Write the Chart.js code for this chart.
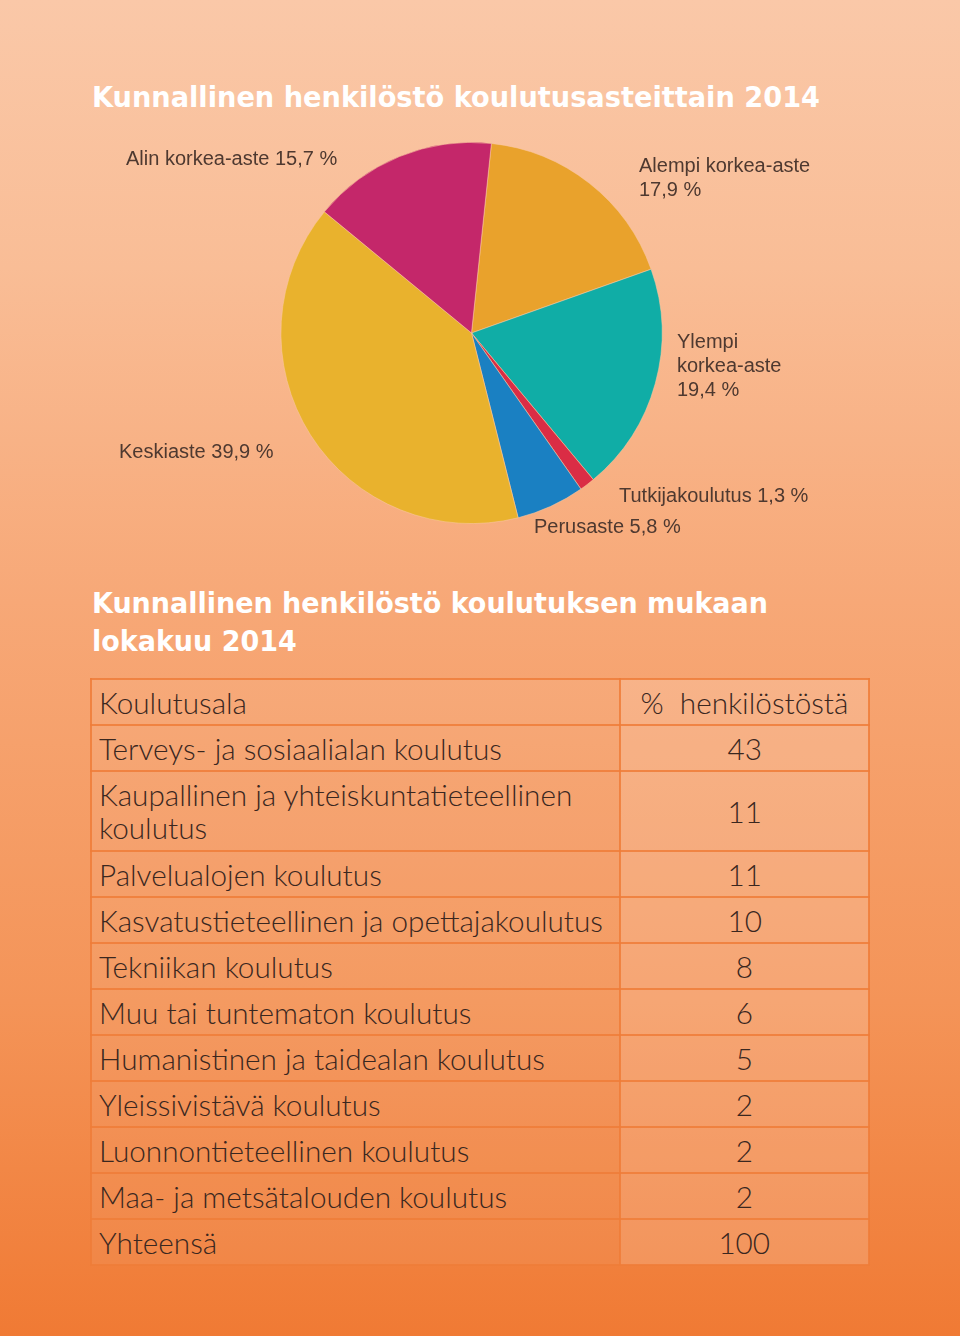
<!DOCTYPE html>
<html lang="fi">
<head>
<meta charset="utf-8">
<script src="https://cdn.jsdelivr.net/npm/chart.js@4/dist/chart.umd.min.js"></script>
<style>
  html, body { margin: 0; padding: 0; }
  body {
    width: 960px; height: 1336px; position: relative; overflow: hidden;
    background: linear-gradient(180deg, #fac8a8 0%, #f9bd96 20%, #f7a877 45%, #f49458 75%, #f07a34 100%);
    font-family: "Liberation Sans", Arial, sans-serif;
  }
  .title {
    position: absolute; left: 92px; margin: 0; color: #fff;
    font-family: "DejaVu Sans Condensed", "DejaVu Sans", sans-serif; font-weight: bold;
    font-size: 28px; line-height: 38px; white-space: nowrap; transform-origin: 0 0;
  }
  #t1 { top: 79px; }
  #t2 { top: 585px; }
  #pieBox { position: absolute; left: 0; top: 0; width: 960px; height: 560px; }
  table {
    position: absolute; left: 90px; top: 678px; border-collapse: collapse;
    font-family: "Lato", "DejaVu Sans Condensed", sans-serif; font-weight: 300;
    font-size: 29px; color: #3a271f;
  }
  td {
    border: 2px solid rgba(238,124,56,0.85); padding: 0 0 0 7px; height: 44px;
    line-height: 33px; vertical-align: middle; white-space: nowrap; overflow: visible;
  }
  td span { display: inline-block; transform-origin: 0 50%; }
  td.r span { transform-origin: 50% 50%; }
  td.l { width: 520px; background: rgba(255,255,255,0.06); }
  td.r { width: 247px; text-align: center; padding: 0; background: rgba(255,255,255,0.17); }
  tr.double td { height: 78px; }
</style>
</head>
<body>
<div class="title" id="t1">Kunnallinen henkilöstö koulutusasteittain 2014</div>
<div class="title" id="t2">Kunnallinen henkilöstö koulutuksen mukaan<br>lokakuu 2014</div>
<div id="pieBox"><canvas id="pie" width="960" height="560"></canvas></div>
<table id="tbl"></table>
<script>
// ---- data ----
const pieLabels = ['Alempi korkea-aste', 'Ylempi korkea-aste', 'Tutkijakoulutus', 'Perusaste', 'Keskiaste', 'Alin korkea-aste'];
const pieValues = [17.9, 19.4, 1.3, 5.8, 39.9, 15.7];
const pieColors = ['#e9a22c', '#10ada6', '#da2d45', '#1a80c2', '#e9b22d', '#c4276a'];

const tableHeader = ['Koulutusala', '%\u00a0 henkilöstöstä'];
const fields = [
  'Terveys- ja sosiaalialan koulutus',
  'Kaupallinen ja yhteiskuntatieteellinen\nkoulutus',
  'Palvelualojen koulutus',
  'Kasvatustieteellinen ja opettajakoulutus',
  'Tekniikan koulutus',
  'Muu tai tuntematon koulutus',
  'Humanistinen ja taidealan koulutus',
  'Yleissivistävä koulutus',
  'Luonnontieteellinen koulutus',
  'Maa- ja metsätalouden koulutus',
  'Yhteensä'
];
const shares = [43, 11, 11, 10, 8, 6, 5, 2, 2, 2, 100];

// ---- table ----
const tbl = document.getElementById('tbl');
function addRow(a, b) {
  const tr = document.createElement('tr');
  if (a.includes('\n')) tr.className = 'double';
  const l = document.createElement('td'); l.className = 'l';
  const ls = document.createElement('span'); ls.innerHTML = a.split('\n').join('<br>');
  l.appendChild(ls);
  const r = document.createElement('td'); r.className = 'r';
  const rs = document.createElement('span'); rs.textContent = b; r.appendChild(rs);
  tr.appendChild(l); tr.appendChild(r); tbl.appendChild(tr);
}
addRow(tableHeader[0], tableHeader[1]);
fields.forEach((f, i) => addRow(f, String(shares[i])));

// condense table text so the longest row matches the reference width (504px)
(function () {
  const spans = tbl.querySelectorAll('td.l span');
  const ref = spans[4].getBoundingClientRect().width; // 'Kasvatustieteellinen ja opettajakoulutus'
  const k = 504 / ref;
  tbl.querySelectorAll('td span').forEach(s => { s.style.transform = 'scaleX(' + k + ')'; });
})();

// fit titles to measured widths of the reference
function fitWidth(id, w) {
  const el = document.getElementById(id);
  const cur = el.getBoundingClientRect().width;
  el.style.transform = 'scaleX(' + (w / cur) + ')';
}
fitWidth('t1', 728);
fitWidth('t2', 676);

// ---- pie labels ----
const fmt = v => v.toFixed(1).replace('.', ',') + ' %';
const labelLayout = [
  { x: 639, y: 166, lines: 2 },   // Alempi
  { x: 677, y: 342, lines: 3 },   // Ylempi
  { x: 619, y: 496, lines: 1 },   // Tutkija
  { x: 534, y: 527, lines: 1 },   // Perusaste
  { x: 119, y: 452, lines: 1 },   // Keskiaste
  { x: 126, y: 159, lines: 1 }    // Alin
];
const outLabels = {
  id: 'outLabels',
  afterDraw(chart) {
    const ctx = chart.ctx;
    ctx.save();
    ctx.font = '20px "Liberation Sans", Arial, sans-serif';
    ctx.fillStyle = '#4e3930';
    ctx.textAlign = 'left';
    ctx.textBaseline = 'middle';
    chart.data.labels.forEach((lab, i) => {
      const L = labelLayout[i];
      const val = fmt(chart.data.datasets[0].data[i]);
      let lines;
      if (L.lines === 1) lines = [lab + ' ' + val];
      else if (L.lines === 2) lines = [lab, val];
      else lines = lab.split(' ').concat([val]);
      lines.forEach((t, k) => ctx.fillText(t, L.x, L.y + k * 24));
    });
    ctx.restore();
  }
};

new Chart(document.getElementById('pie'), {
  type: 'pie',
  data: {
    labels: pieLabels,
    datasets: [{ data: pieValues, backgroundColor: pieColors, borderWidth: 0.8, borderColor: 'rgba(250,200,160,0.7)' }]
  },
  options: {
    responsive: false,
    animation: false,
    rotation: 6,
    layout: { padding: { left: 280, right: 297, top: 142, bottom: 36 } },
    plugins: { legend: { display: false }, tooltip: { enabled: false } }
  },
  plugins: [outLabels]
});
</script>
</body>
</html>
